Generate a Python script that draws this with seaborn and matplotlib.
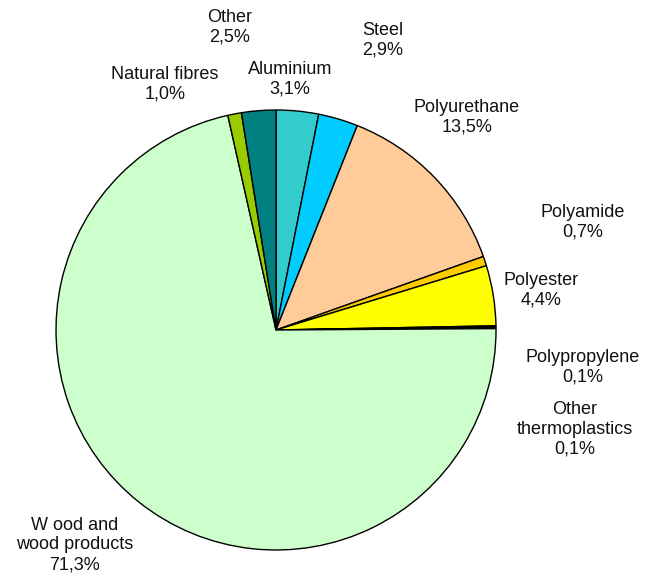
import matplotlib
matplotlib.use("Agg")
import matplotlib.pyplot as plt
import seaborn as sns

# materials, clockwise from the top
materials = ["Aluminium", "Steel", "Polyurethane", "Polyamide", "Polyester",
             "Polypropylene", "Other thermoplastics", "Wood and wood products",
             "Natural fibres", "Other"]
shares = [3.1, 2.9, 13.5, 0.7, 4.4, 0.1, 0.1, 71.3, 1.0, 2.5]
colors = ["#33CCCC", "#00CCFF", "#FFCC99", "#FFCC00", "#FFFF00",
          "#FF9900", "#993366", "#CCFFCC", "#99CC00", "#008080"]

# label text (line broken as in the original) and label placement in pie units
label_text = {
    "Aluminium": "Aluminium",
    "Steel": "Steel",
    "Polyurethane": "Polyurethane",
    "Polyamide": "Polyamide",
    "Polyester": "Polyester",
    "Polypropylene": "Polypropylene",
    "Other thermoplastics": "Other\nthermoplastics",
    "Wood and wood products": "W ood and\nwood products",
    "Natural fibres": "Natural fibres",
    "Other": "Other",
}
label_pos = {
    "Aluminium": (0.064, 1.141),
    "Steel": (0.486, 1.318),
    "Polyurethane": (0.868, 0.968),
    "Polyamide": (1.395, 0.491),
    "Polyester": (1.205, 0.182),
    "Polypropylene": (1.395, -0.168),
    "Other thermoplastics": (1.359, -0.45),
    "Wood and wood products": (-0.914, -0.977),
    "Natural fibres": (-0.505, 1.118),
    "Other": (-0.209, 1.377),
}

sns.set_theme(style="white")
plt.rcParams["font.family"] = ["Liberation Sans", "DejaVu Sans"]

W, H = 659, 580
fig = plt.figure(figsize=(W / 100, H / 100), dpi=100)
cx, cy, r = 276, 330, 220
ax = fig.add_axes([(cx - r) / W, (H - cy - r) / H, 2 * r / W, 2 * r / H])

ax.pie(shares, colors=colors, startangle=90, counterclock=False,
       wedgeprops=dict(edgecolor="black", linewidth=1.0))
ax.set_xlim(-1, 1)
ax.set_ylim(-1, 1)
ax.set_aspect("equal")
ax.axis("off")

for name, val in zip(materials, shares):
    x, y = label_pos[name]
    txt = f"{label_text[name]}\n{val:.1f}%".replace(".", ",")
    ax.text(x, y, txt, ha="center", va="center", fontsize=13,
            linespacing=1.2, color="#111111", clip_on=False)

fig.savefig("out.png", dpi=100, facecolor="white")
